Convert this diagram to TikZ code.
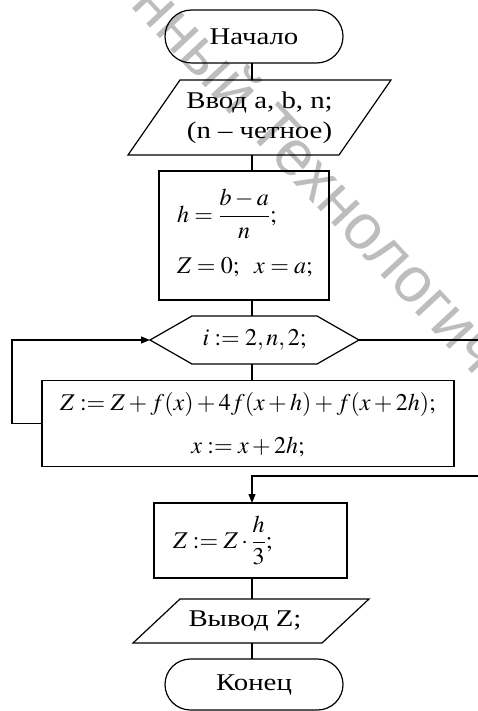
\documentclass[tikz,border=0pt]{standalone}
\usepackage{amsmath}
\usepackage{mathptmx}
\usepackage{fontspec}
\setmainfont{Liberation Serif}
\newfontfamily\wmfont{Liberation Sans}
\usepackage{graphicx}
\usetikzlibrary{shapes.misc,arrows.meta}
\newcommand{\sx}[1]{\scalebox{1.2}[1]{#1}}
\begin{document}
\begin{tikzpicture}[x=1pt,y=-1pt,line width=1.2pt,
  txt/.style={font=\fontsize{24}{28}\selectfont, inner sep=0pt, outer sep=0pt},
  term/.style={draw, rounded rectangle, minimum width=178pt, minimum height=53pt, txt},
  box/.style={draw, rectangle, txt},
  frame/.style={draw=none, rectangle, txt},
  arr/.style={-{Triangle[length=9pt,width=7pt]}},
  wm/.style={text=black!26, font=\wmfont\fontsize{64}{70}\selectfont, inner sep=0pt}]
\useasboundingbox (0,0) rectangle (477,711);
% watermark
\node[wm, anchor=base west, rotate=-47] (wm) at (245,130) {\llap{государственный }Технологический университет};
\coordinate (spine) at (252,0);
% nodes
\node[term] (start) at (254,36.5) {\sx{Начало}};
\node[frame, minimum width=263pt, minimum height=75pt, font=\fontsize{24}{30}\selectfont] (in) at (259.5,117.5)
  {\sx{\begin{tabular}{@{}c@{}}Ввод a, b, n;\\(n – четное)\end{tabular}}};
\draw (in.south west) -- ([xshift=52pt]in.north west) -- (in.north east) -- ([xshift=-52pt]in.south east) -- cycle;
\node[box, minimum width=170pt, minimum height=129pt] (init) at (244,235.5) {};
\node[txt, anchor=west] (initT) at ([xshift=18pt]init.west)
  {\begin{tabular}{@{}l@{}}$\displaystyle h=\frac{b-a}{n};$\\[23pt]$Z=0;\hspace{12pt}x=a;$\end{tabular}};
\node[frame, minimum width=209pt, minimum height=48pt] (loop) at (254.5,340) {$i:=2,n,2;$};
\draw (loop.west) -- ([xshift=42pt]loop.north west) -- ([xshift=-42pt]loop.north east) -- (loop.east)
  -- ([xshift=-42pt]loop.south east) -- ([xshift=42pt]loop.south west) -- cycle;
\node[box, minimum width=412pt, minimum height=73pt, font=\fontsize{24}{43}\selectfont] (body) at (248,423.5)
  {\begin{tabular}{@{}c@{}}$Z:=Z+f(x)+4f(x+h)+f(x+2h);$\\$x:=x+2h;$\end{tabular}};
\node[box, minimum width=193pt, minimum height=75pt] (fin) at (250.5,540.5) {};
\node[txt, anchor=west] (finT) at ([xshift=19pt]fin.west) {$\displaystyle Z:=Z\cdot\frac{h}{3};$};
\node[frame, minimum width=236pt, minimum height=44pt] (out) at (251,621) {\sx{Вывод Z;}\hspace*{12pt}};
\draw (out.south west) -- ([xshift=47pt]out.north west) -- (out.north east) -- ([xshift=-47pt]out.south east) -- cycle;
\node[term, minimum height=51pt] (end) at (254,684.5) {\sx{Конец}};
% connectors
\draw (start.south -| spine) -- (in.north -| spine);
\draw (in.south -| spine) -- (init.north -| spine);
\draw (init.south -| spine) -- (loop.north -| spine);
\draw (loop.south -| spine) -- (body.north -| spine);
\draw[arr] (body.west) -- ++(-30pt,0) |- (loop.west);
\coordinate (exitr) at (485,476);
\draw[arr] (loop.east) -| (exitr) -| (fin.north -| spine);
\draw (fin.south -| spine) -- (out.north -| spine);
\draw (out.south -| spine) -- (end.north -| spine);
\end{tikzpicture}
\end{document}
